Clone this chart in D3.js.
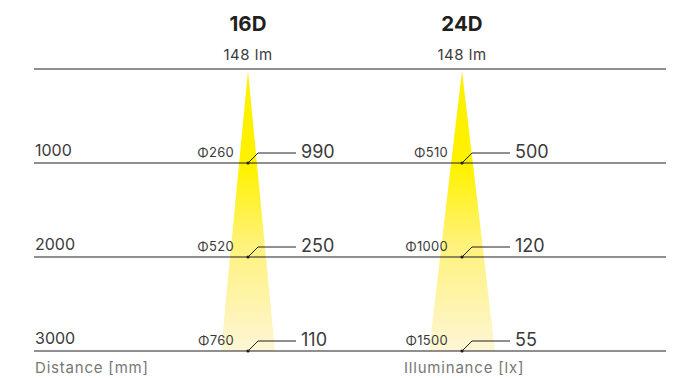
<!DOCTYPE html>
<html>
<head>
<meta charset="utf-8">
<script src="https://cdn.jsdelivr.net/npm/d3@7"></script>
<style>
  body { margin: 0; background: #fff; }
  svg { display: block; font-family: Inter, 'Noto Sans', sans-serif; }
</style>
</head>
<body>
<svg id="chart" width="684" height="378"></svg>
<script>
// data
const distances = [1000, 2000, 3000]
const beams = ['16D', '24D']
const lumens = [148, 148]
const diameters = [[260, 520, 760], [510, 1000, 1500]]
const illuminance = [[990, 250, 110], [500, 120, 55]]
// beam half width (px) at 3000 mm
const spread = [27, 33]

const svg = d3.select('#chart')
const width = +svg.attr('width')
const margin = { left: 34, right: 18, top: 69, bottom: 27 }

const y = d3.scaleLinear().domain([0, 3000]).range([69, 351])
const x = d3.scaleBand().domain(beams).range([141, 569]).padding(0)
const cx = d => x(d) + x.bandwidth() / 2

const defs = svg.append('defs')
const grad = defs.append('linearGradient')
  .attr('id', 'beam')
  .attr('gradientUnits', 'userSpaceOnUse')
  .attr('x1', 0).attr('x2', 0)
  .attr('y1', y(0)).attr('y2', y(3000))
grad.selectAll('stop')
  .data([[0, '#ffee00'], [0.35, '#fff200'], [0.62, '#fff27a'], [1, '#fdf6d6']])
  .enter().append('stop')
  .attr('offset', d => d[0])
  .attr('stop-color', d => d[1])

// beams
beams.forEach((b, i) => {
  const w = d3.scaleLinear().domain([0, 3000]).range([0, spread[i]])
  const c = cx(b)
  const pts = [[c, y(0) + 2], [c + w(3000), y(3000)], [c - w(3000), y(3000)]]
  svg.append('path')
    .attr('d', d3.line()(pts) + 'Z')
    .attr('fill', 'url(#beam)')
})

// horizontal lines
svg.append('g').selectAll('line')
  .data([0].concat(distances))
  .enter().append('line')
  .attr('x1', margin.left)
  .attr('x2', width - margin.right)
  .attr('y1', d => y(d))
  .attr('y2', d => y(d))
  .attr('stroke', '#231f20')
  .attr('stroke-width', 1.1)

// distance labels
svg.append('g').selectAll('text')
  .data(distances)
  .enter().append('text')
  .attr('x', 35)
  .attr('y', d => y(d) - 7)
  .attr('font-size', 16)
  .attr('fill', '#3a3a3a')
  .text(d => d)

// titles
beams.forEach((b, i) => {
  const c = cx(b)
  svg.append('text')
    .attr('x', c).attr('y', 31)
    .attr('text-anchor', 'middle')
    .attr('font-size', 20.5)
    .attr('font-weight', 'bold')
    .attr('fill', '#231f20')
    .text(b)
  svg.append('text')
    .attr('x', c).attr('y', 60)
    .attr('text-anchor', 'middle')
    .attr('font-size', 15)
    .attr('letter-spacing', 0.5)
    .attr('fill', '#3a3a3a')
    .text(lumens[i] + ' lm')

  const g = svg.append('g')
  distances.forEach((d, j) => {
    const yy = y(d)
    g.append('circle')
      .attr('cx', c).attr('cy', yy).attr('r', 1.6)
      .attr('fill', '#231f20')
    g.append('path')
      .attr('d', d3.line()([[c, yy], [c + 10, yy - 10], [c + 48, yy - 10]]))
      .attr('fill', 'none')
      .attr('stroke', '#231f20')
      .attr('stroke-width', 1)
    g.append('text')
      .attr('x', c + 53).attr('y', yy - 5)
      .attr('font-size', 18)
      .attr('fill', '#3a3a3a')
      .text(illuminance[i][j])
    g.append('text')
      .attr('x', c - 14).attr('y', yy - 6)
      .attr('text-anchor', 'end')
      .attr('font-size', 13)
      .attr('letter-spacing', 0.3)
      .attr('fill', '#3a3a3a')
      .text('Φ' + diameters[i][j])
  })
})

// axis titles
svg.append('text')
  .attr('x', 35).attr('y', 373)
  .attr('font-size', 15)
  .attr('letter-spacing', 0.8)
  .attr('fill', '#777')
  .text('Distance [mm]')
svg.append('text')
  .attr('x', 404).attr('y', 373)
  .attr('font-size', 15)
  .attr('letter-spacing', 0.8)
  .attr('fill', '#777')
  .text('Illuminance [lx]')
</script>
</body>
</html>
